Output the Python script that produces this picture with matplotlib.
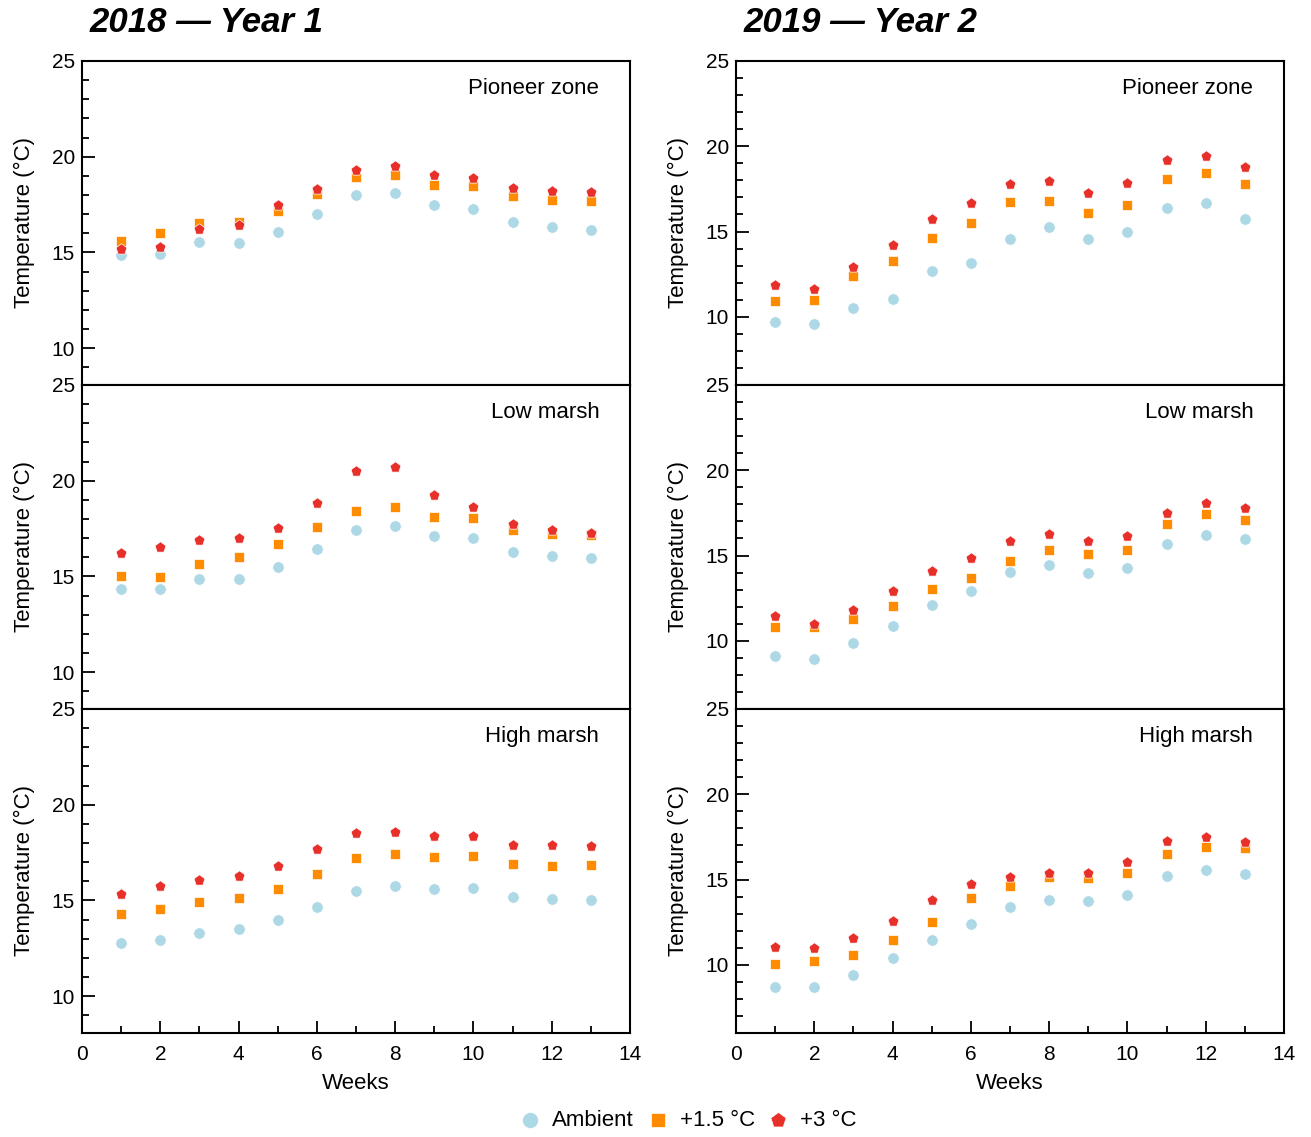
import numpy as np
import matplotlib
matplotlib.use("Agg")
import matplotlib.pyplot as plt
from matplotlib.ticker import MultipleLocator

plt.rcParams['font.family'] = ['Liberation Sans', 'DejaVu Sans']

weeks = list(range(1, 14))

# 2018 (Year 1)
pioneer_2018_amb = [14.84, 14.90, 15.56, 15.50, 16.04, 16.98, 18.00, 18.09, 17.48, 17.29, 16.58, 16.33, 16.18]
pioneer_2018_p15 = [15.57, 16.03, 16.56, 16.61, 17.17, 18.04, 18.96, 19.03, 18.52, 18.48, 17.96, 17.75, 17.68]
pioneer_2018_p3 = [15.17, 15.30, 16.24, 16.45, 17.48, 18.33, 19.32, 19.51, 19.02, 18.90, 18.38, 18.20, 18.13]

low_2018_amb = [14.35, 14.35, 14.84, 14.88, 15.49, 16.43, 17.41, 17.64, 17.13, 16.99, 16.26, 16.08, 15.96]
low_2018_p15 = [15.02, 14.95, 15.65, 16.01, 16.68, 17.59, 18.39, 18.64, 18.09, 18.06, 17.41, 17.22, 17.15]
low_2018_p3 = [16.22, 16.52, 16.92, 16.98, 17.55, 18.86, 20.52, 20.72, 19.25, 18.60, 17.73, 17.43, 17.29]

high_2018_amb = [12.79, 12.95, 13.30, 13.51, 13.98, 14.68, 15.51, 15.74, 15.61, 15.63, 15.18, 15.05, 15.02]
high_2018_p15 = [14.28, 14.54, 14.91, 15.11, 15.58, 16.37, 17.19, 17.40, 17.25, 17.32, 16.88, 16.79, 16.86]
high_2018_p3 = [15.32, 15.75, 16.09, 16.26, 16.82, 17.70, 18.51, 18.58, 18.35, 18.37, 17.88, 17.89, 17.82]

# 2019 (Year 2)
pioneer_2019_amb = [9.69, 9.59, 10.49, 11.03, 12.69, 13.16, 14.54, 15.24, 14.54, 14.95, 16.37, 16.65, 15.71]
pioneer_2019_p15 = [10.92, 10.96, 12.42, 13.27, 14.64, 15.50, 16.74, 16.80, 16.08, 16.55, 18.09, 18.42, 17.80]
pioneer_2019_p3 = [11.85, 11.62, 12.90, 14.19, 15.75, 16.69, 17.80, 17.95, 17.25, 17.84, 19.22, 19.43, 18.77]

low_2019_amb = [9.09, 8.95, 9.88, 10.86, 12.10, 12.90, 14.03, 14.46, 13.97, 14.26, 15.70, 16.21, 15.97]
low_2019_p15 = [10.82, 10.82, 11.25, 12.04, 13.02, 13.68, 14.67, 15.33, 15.08, 15.35, 16.87, 17.41, 17.06]
low_2019_p3 = [11.48, 10.97, 11.83, 12.90, 14.10, 14.86, 15.84, 16.25, 15.88, 16.13, 17.49, 18.09, 17.80]

high_2019_amb = [8.68, 8.70, 9.43, 10.37, 11.46, 12.38, 13.41, 13.82, 13.72, 14.09, 15.22, 15.57, 15.33]
high_2019_p15 = [10.04, 10.20, 10.59, 11.46, 12.52, 13.92, 14.63, 15.12, 15.08, 15.39, 16.50, 16.93, 16.83]
high_2019_p3 = [11.04, 10.98, 11.59, 12.58, 13.80, 14.74, 15.14, 15.41, 15.37, 16.02, 17.26, 17.52, 17.22]

zones = ["Pioneer zone", "Low marsh", "High marsh"]
titles = ["2018 \u2014 Year 1", "2019 \u2014 Year 2"]
series_labels = ["Ambient", "+1.5 \u00b0C", "+3 \u00b0C"]

data = [
    [(pioneer_2018_amb, pioneer_2018_p15, pioneer_2018_p3),
     (low_2018_amb, low_2018_p15, low_2018_p3),
     (high_2018_amb, high_2018_p15, high_2018_p3)],
    [(pioneer_2019_amb, pioneer_2019_p15, pioneer_2019_p3),
     (low_2019_amb, low_2019_p15, low_2019_p3),
     (high_2019_amb, high_2019_p15, high_2019_p3)],
]

colors = ["#ADD8E6", "#FF8C00", "#E8302A"]
markers = ["o", "s", "p"]
sizes = [68, 56, 68]
ylims = [(8.07, 25), (6, 25)]

W, H = 1311, 1137
fig = plt.figure(figsize=(W / 100, H / 100), dpi=100)

col_left = [82, 736]
col_width = 548
top = 61
row_h = 324

handles = None
for c in range(2):
    for r in range(3):
        x0 = col_left[c] / W
        y0 = 1 - (top + (r + 1) * row_h) / H
        ax = fig.add_axes([x0, y0, col_width / W, row_h / H])
        hs = []
        for vals, col, m, s, lab in zip(data[c][r], colors, markers, sizes, series_labels):
            h = ax.scatter(weeks, vals, color=col, marker=m, s=s, edgecolors="white",
                           linewidths=0.5, label=lab, zorder=3)
            hs.append(h)
        handles = hs
        ax.set_xlim(0, 14)
        ax.set_ylim(*ylims[c])
        ax.yaxis.set_major_locator(MultipleLocator(5))
        ax.yaxis.set_minor_locator(MultipleLocator(1))
        ax.xaxis.set_major_locator(MultipleLocator(2))
        ax.xaxis.set_minor_locator(MultipleLocator(1))
        ax.tick_params(which="both", direction="in", labelsize=15, width=1.3)
        ax.tick_params(axis="y", which="major", length=9, pad=5)
        ax.tick_params(axis="y", which="minor", length=5)
        ax.tick_params(axis="x", which="major", length=9, pad=9)
        ax.tick_params(axis="x", which="minor", length=5)
        for sp in ax.spines.values():
            sp.set_linewidth(1.5)
        ax.set_ylabel("Temperature (\u00b0C)", fontsize=16, labelpad=12)
        ax.text(0.944, 0.915, zones[r], transform=ax.transAxes, ha="right", va="center", fontsize=16)
        if r < 2:
            ax.tick_params(axis="x", which="both", bottom=False, labelbottom=False)
        else:
            ax.set_xlabel("Weeks", fontsize=16, labelpad=6)
    fig.text((col_left[c] + 8) / W, 1 - 22 / H, titles[c], fontsize=25,
             fontweight="bold", fontstyle="italic", ha="left", va="center")

fig.legend(handles=handles, labels=series_labels, loc="center", bbox_to_anchor=(688 / W, 1 - 1120 / H),
           ncol=3, frameon=False, fontsize=16, handlelength=1.0, handletextpad=0.5,
           columnspacing=0.55, scatterpoints=1, markerscale=1.4)

fig.savefig("out.png", dpi=100)
